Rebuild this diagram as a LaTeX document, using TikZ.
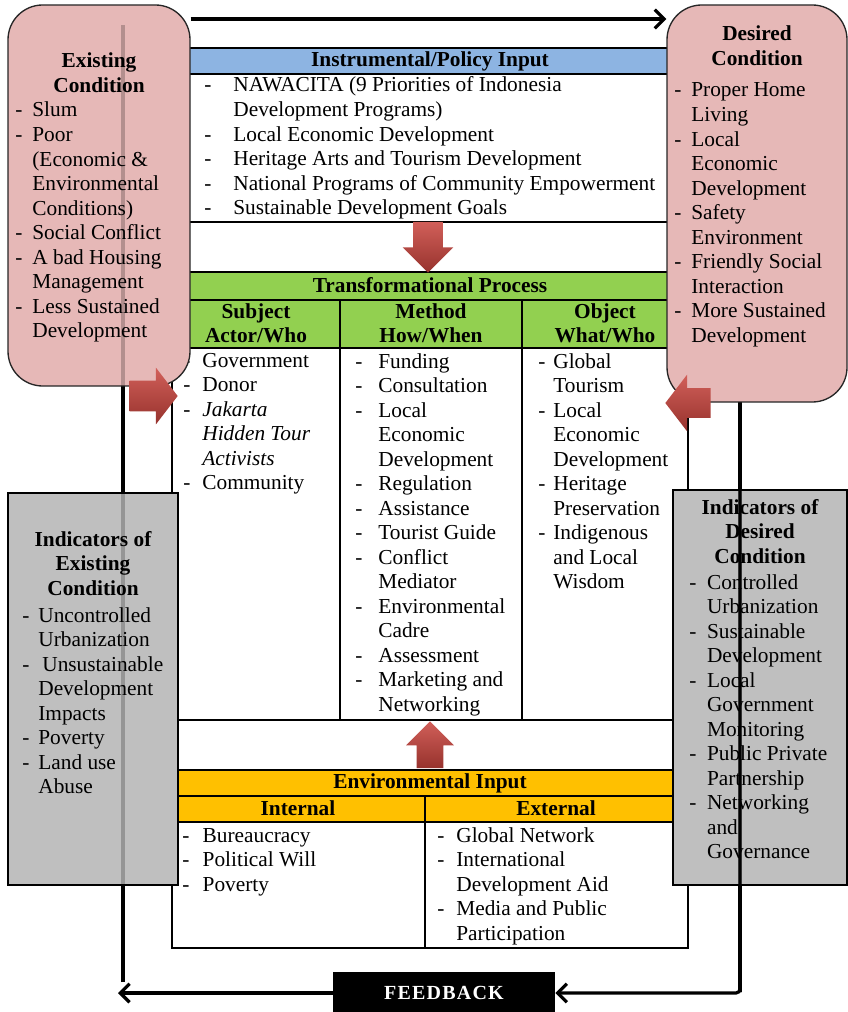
\documentclass[tikz,border=0pt]{standalone}
\usepackage{fontspec}
\setmainfont{Liberation Serif}
\usetikzlibrary{fit,shapes.arrows,arrows.meta}
\definecolor{boxpink}{HTML}{E6B8B7}
\definecolor{boxgrey}{HTML}{BFBFBF}
\definecolor{hdblue}{HTML}{8DB4E2}
\definecolor{hdgreen}{HTML}{92D050}
\definecolor{hdyellow}{HTML}{FFC000}
\definecolor{arrowred}{HTML}{C9433C}
\begin{document}
\begin{tikzpicture}[x=0.75pt,y=-0.75pt,
  font=\fontsize{16}{18.4}\selectfont,
  >={Straight Barb[length=7pt,width=14pt]},
  cell/.style={draw,line width=0.9pt},
  lst/.style={inner sep=0,anchor=base west},
  hd/.style={inner sep=0,anchor=base,font=\fontsize{16}{18.4}\selectfont\bfseries},
  pinkbox/.style={draw=black!85,line width=1pt,fill=boxpink,rounded corners=26pt,inner sep=0},
  greybox/.style={draw,line width=1pt,fill=boxgrey,inner sep=0},
  loopline/.style={line width=2.4pt},
  redarrow/.style={single arrow,draw=none,top color=arrowred!85!white,bottom color=arrowred!75!black,anchor=tip}]
\useasboundingbox (0,0) rectangle (847,1012);
\coordinate (toprow) at (0,19);
\coordinate (rline) at (740,0);
\coordinate (lline) at (118,0);
\coordinate (ltop) at (123,25);
\coordinate (lbot) at (123,982);
\draw[loopline] (lbot) -- (ltop);
\draw[loopline] (740,402) -- (740,992);

\draw[cell,fill=hdblue] (172,48) rectangle (688,74);
\draw[cell] (172,74) rectangle (688,222);
\draw[cell] (172,222) rectangle (688,272);
\draw[cell,fill=hdgreen] (172,272) rectangle (688,300);
\draw[cell,fill=hdgreen] (172,300) rectangle (688,348);
\draw[cell] (172,348) rectangle (688,720);
\draw[cell] (340,300) -- (340,720) (522,300) -- (522,720);
\draw[cell] (172,720) rectangle (688,770);
\draw[cell,fill=hdyellow] (172,770) rectangle (688,796);
\draw[cell,fill=hdyellow] (172,796) rectangle (688,822);
\draw[cell] (172,822) rectangle (688,948);
\draw[cell] (425,796) -- (425,948);

\node[hd] (instrhd) at (430,67) {Instrumental/Policy Input};
\node[lst] (instrlst) at (204,92) {\begin{tabular}[t]{@{}l@{\hspace{16.5pt}}l@{}}
- & NAWACITA (9 Priorities of Indonesia\\
  & Development Programs)\\
- & Local Economic Development\\
- & Heritage Arts and Tourism Development\\
- & National Programs of Community Empowerment\\
- & Sustainable Development Goals
\end{tabular}};

\node[hd] (transhd) at (430,292) {Transformational Process};
\node[hd] (subjhd) at (256,318) {\begin{tabular}[t]{@{}c@{}}Subject\\Actor/Who\end{tabular}};
\node[hd] (methhd) at (431,318) {\begin{tabular}[t]{@{}c@{}}Method\\How/When\end{tabular}};
\node[hd] (objhd) at (605,318) {\begin{tabular}[t]{@{}c@{}}Object\\What/Who\end{tabular}};
\node[lst] (subjlst) at (183,367) {\begin{tabular}[t]{@{}l@{\hspace{9pt}}l@{}}
- & Government\\
- & Donor\\
- & \textit{Jakarta}\\
  & \textit{Hidden Tour}\\
  & \textit{Activists}\\
- & Community
\end{tabular}};
\node[lst] (methlst) at (355,368) {\begin{tabular}[t]{@{}l@{\hspace{12pt}}l@{}}
- & Funding\\
- & Consultation\\
- & Local\\
  & Economic\\
  & Development\\
- & Regulation\\
- & Assistance\\
- & Tourist Guide\\
- & Conflict\\
  & Mediator\\
- & Environmental\\
  & Cadre\\
- & Assessment\\
- & Marketing and\\
  & Networking
\end{tabular}};
\node[lst] (objlst) at (538,368) {\begin{tabular}[t]{@{}l@{\hspace{6pt}}l@{}}
- & Global\\
  & Tourism\\
- & Local\\
  & Economic\\
  & Development\\
- & Heritage\\
  & Preservation\\
- & Indigenous\\
  & and Local\\
  & Wisdom
\end{tabular}};

\node[hd] (envhd) at (430,788) {Environmental Input};
\node[hd] (inthd) at (298,815) {Internal};
\node[hd] (exthd) at (556,815) {External};
\node[lst] (intlst) at (182,842) {\begin{tabular}[t]{@{}l@{\hspace{10pt}}l@{}}
- & Bureaucracy\\
- & Political Will\\
- & Poverty
\end{tabular}};
\node[lst] (extlst) at (437,842) {\begin{tabular}[t]{@{}l@{\hspace{9pt}}l@{}}
- & Global Network\\
- & International\\
  & Development Aid\\
- & Media and Public\\
  & Participation
\end{tabular}};

\node[pinkbox,fit={(8,5) (190,386)}] (exist) {};
\node[hd] (existhd) at (99,68) {\begin{tabular}[t]{@{}c@{}}Existing\\Condition\end{tabular}};
\node[lst] (existlst) at (15,117) {\begin{tabular}[t]{@{}l@{\hspace{7.5pt}}l@{}}
- & Slum\\
- & Poor\\
  & (Economic \&\\
  & Environmental\\
  & Conditions)\\
- & Social Conflict\\
- & A bad Housing\\
  & Management\\
- & Less Sustained\\
  & Development
\end{tabular}};

\node[pinkbox,fit={(667,5) (847,402)}] (desire) {};
\node[hd] (desirehd) at (757,41) {\begin{tabular}[t]{@{}c@{}}Desired\\Condition\end{tabular}};
\node[lst] (desirelst) at (674,97) {\begin{tabular}[t]{@{}l@{\hspace{7.5pt}}l@{}}
- & Proper Home\\
  & Living\\
- & Local\\
  & Economic\\
  & Development\\
- & Safety\\
  & Environment\\
- & Friendly Social\\
  & Interaction\\
- & More Sustained\\
  & Development
\end{tabular}};

\node[greybox,fit={(8,493) (178,885)}] (existind) {};
\node[hd] (existindhd) at (93,546) {\begin{tabular}[t]{@{}c@{}}Indicators of\\Existing\\Condition\end{tabular}};
\node[lst] (existindlst) at (22,622) {\begin{tabular}[t]{@{}l@{\hspace{6.75pt}}l@{}}
- & Uncontrolled\\
  & Urbanization\\
- & \hspace{3pt}Unsustainable\\
  & Development\\
  & Impacts\\
- & Poverty\\
- & Land use\\
  & Abuse
\end{tabular}};

\node[greybox,fit={(673,490) (847,885)}] (desireind) {};
\node[hd] (desireindhd) at (760,514) {\begin{tabular}[t]{@{}c@{}}Indicators of\\Desired\\Condition\end{tabular}};
\node[lst] (desireindlst) at (689,589) {\begin{tabular}[t]{@{}l@{\hspace{8pt}}l@{}}
- & Controlled\\
  & Urbanization\\
- & Sustainable\\
  & Development\\
- & Local\\
  & Government\\
  & Monitoring\\
- & Public Private\\
  & Partnership\\
- & Networking\\
  & and\\
  & Governance
\end{tabular}};

\node[fill=black,inner sep=0,minimum width=166.5pt,minimum height=32pt,text=white,
  font=\fontsize{15}{18}\selectfont\bfseries\addfontfeature{LetterSpace=6}] (fb) at (444,993) {FEEDBACK};

\draw[loopline,opacity=0.22] (ltop) -- (lbot);
\draw[loopline,opacity=0.22] (desire.south -| rline) -- (rline |- fb);
\draw[loopline,->] (exist.east |- toprow) -- (desire.west |- toprow);
\draw[loopline,->,rounded corners=3pt] (desire.south -| rline) -- (rline |- fb) -- (fb.east);
\draw[loopline,->] (fb.west) -- (lline |- fb);

\node[redarrow,inner sep=10.9pt,minimum height=38pt,single arrow head extend=7.9pt,shape border rotate=270] (downarr) at (428,273) {};
\node[redarrow,inner sep=9.75pt,minimum height=35pt,single arrow head extend=8pt,shape border rotate=90] (uparr) at (430,721) {};
\node[redarrow,inner sep=11.25pt,minimum height=36pt,single arrow head extend=9.75pt,single arrow tip angle=105] (rarr) at (178,396) {};
\node[redarrow,inner sep=11pt,minimum height=34pt,single arrow head extend=10pt,single arrow tip angle=105,shape border rotate=180] (larr) at (665,403) {};
\end{tikzpicture}
\end{document}
